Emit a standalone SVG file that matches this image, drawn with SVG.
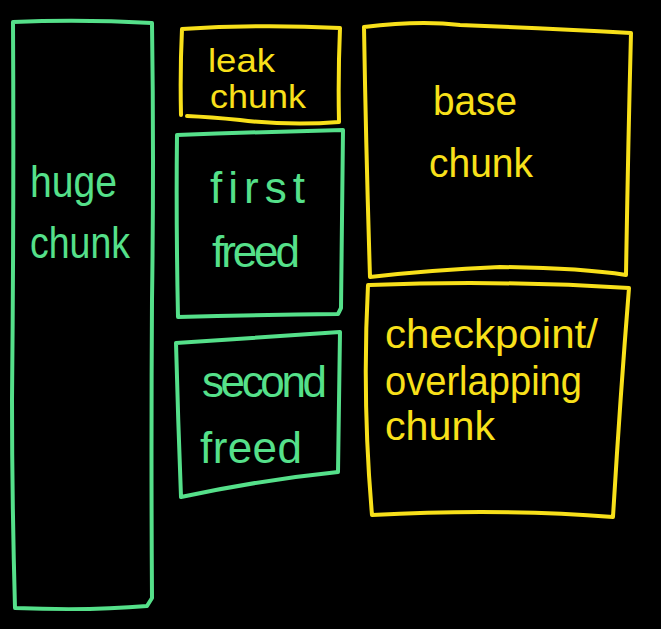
<svg xmlns="http://www.w3.org/2000/svg" width="661" height="629" viewBox="0 0 661 629">
<style>
.box{fill:none;stroke-width:4;stroke-linecap:round;stroke-linejoin:round}
.g{stroke:#55e08a}
.y{stroke:#f8e01a}
.t{font-family:"Liberation Sans","DejaVu Sans",sans-serif}
.tg{fill:#55e08a}
.ty{fill:#f8e01a}
</style>
<rect width="661" height="629" fill="#000"/>
<g id="huge-chunk">
<path class="box g" d="M13,22 Q80,19 152,23 Q154,160 152,300 Q151,450 152,598 L147,606 Q90,611 15,608 Q12,500 12,400 Q14,200 13,22 Z"/>
<text class="t tg" x="30" y="197" font-size="44" textLength="87" lengthAdjust="spacingAndGlyphs">huge</text>
<text class="t tg" x="30" y="258" font-size="44" textLength="100" lengthAdjust="spacingAndGlyphs">chunk</text>
</g>
<g id="leak-chunk">
<path class="box y" d="M181,115 Q180,70 182,29 Q260,24 340,28 Q338,75 339,122 Q290,126 240,120 Q210,117 187,116"/>
<text class="t ty" x="208" y="72" font-size="34" textLength="67" lengthAdjust="spacingAndGlyphs">leak</text>
<text class="t ty" x="210" y="108" font-size="34" textLength="96" lengthAdjust="spacingAndGlyphs">chunk</text>
</g>
<g id="first-freed">
<path class="box g" d="M177,135 Q260,132 343,130 Q342,220 341,308 L338,314 Q260,315 178,317 Q176,220 177,135 Z"/>
<text class="t tg" x="210" y="203" font-size="44" textLength="95" lengthAdjust="spacing">first</text>
<text class="t tg" x="212" y="267" font-size="44" textLength="88" lengthAdjust="spacing">freed</text>
</g>
<g id="second-freed">
<path class="box g" d="M176,343 Q260,337 340,332 Q339,400 338,472 Q260,480 181,497 Q178,420 176,343 Z"/>
<text class="t tg" x="202" y="397" font-size="44" textLength="125" lengthAdjust="spacing">second</text>
<text class="t tg" x="200" y="463" font-size="44" textLength="102" lengthAdjust="spacing">freed</text>
</g>
<g id="base-chunk">
<path class="box y" d="M364,27 Q420,20 460,25 Q540,28 631,33 Q628,150 626,275 Q580,268 500,267 Q430,270 370,277 Q366,150 364,27 Z"/>
<text class="t ty" x="433" y="115" font-size="40" textLength="84" lengthAdjust="spacingAndGlyphs">base</text>
<text class="t ty" x="429" y="177" font-size="40" textLength="104" lengthAdjust="spacingAndGlyphs">chunk</text>
</g>
<g id="checkpoint-chunk">
<path class="box y" d="M370,285 Q500,280 629,288 Q620,400 613,517 Q500,508 372,515 Q362,400 368,285 Z"/>
<text class="t ty" x="385" y="348" font-size="40" textLength="213" lengthAdjust="spacingAndGlyphs">checkpoint/</text>
<text class="t ty" x="385" y="395" font-size="40" textLength="197" lengthAdjust="spacingAndGlyphs">overlapping</text>
<text class="t ty" x="385" y="440" font-size="40" textLength="110" lengthAdjust="spacingAndGlyphs">chunk</text>
</g>
<g id="connectors"></g>
</svg>
